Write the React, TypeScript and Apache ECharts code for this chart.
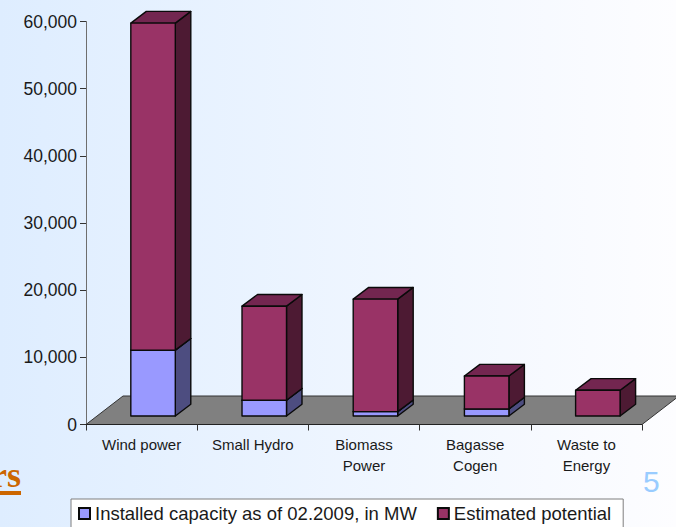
import React, { useEffect, useRef } from "react";
import * as echarts from "echarts";

const categories = ["Wind power", "Small Hydro", "Biomass\nPower", "Bagasse\nCogen", "Waste to\nEnergy"];
const installed = [9800, 2350, 650, 1050, 0];
const estimated = [48700, 14000, 16750, 4900, 3830];
const seriesNames = ["Installed capacity as of 02.2009, in MW", "Estimated potential"];
const yMax = 60000;
const yStep = 10000;

const FONT = "'Liberation Sans', Arial, sans-serif";
const BAR_DX = 15.5;
const BAR_DY = 11.7;
const BASE_DY = 8.5;
const OFFSET = 0.103;
const WIDTH = 0.4;
const FLOOR_DX = 37;
const FLOOR_DY = 28.5;

const faces = [
  { front: "#9999FF", side: "#4D4D80", top: "#7373BF" },
  { front: "#993366", side: "#4D1A33", top: "#732650" },
];
const stroke = "#0A0A0A";

function barRenderer(which: number) {
  return (_params: any, api: any) => {
    const cat = api.value(0);
    const start = api.value(1);
    const end = api.value(2);
    if (end <= start) return null;
    const band = api.size([1, 0])[0];
    const w = band * WIDTH;
    const centre = api.coord([cat, 0])[0] + band * OFFSET;
    const x0 = centre - w / 2;
    const x1 = x0 + w;
    const yb = api.coord([cat, start])[1] - BASE_DY;
    const yt = api.coord([cat, end])[1] - BASE_DY;
    const f = faces[which];
    const s = { stroke, lineWidth: 1.4, lineJoin: "round" };
    return {
      type: "group",
      children: [
        { type: "polygon", shape: { points: [[x1, yb], [x1 + BAR_DX, yb - BAR_DY], [x1 + BAR_DX, yt - BAR_DY], [x1, yt]] }, style: { ...s, fill: f.side } },
        { type: "polygon", shape: { points: [[x0, yt], [x1, yt], [x1 + BAR_DX, yt - BAR_DY], [x0 + BAR_DX, yt - BAR_DY]] }, style: { ...s, fill: f.top } },
        { type: "rect", shape: { x: x0, y: yt, width: w, height: yb - yt }, style: { ...s, fill: f.front } },
      ],
    };
  };
}

function floorRenderer(params: any, api: any) {
  const c = params.coordSys;
  const y = api.coord([0, 0])[1];
  const l = c.x;
  const r = c.x + c.width;
  return {
    type: "polygon",
    shape: { points: [[l, y], [l + FLOOR_DX, y - FLOOR_DY], [r + FLOOR_DX, y - FLOOR_DY], [r, y]] },
    style: { fill: "#808080", stroke: "#333333", lineWidth: 1 },
  };
}

export default function App() {
  const ref = useRef<HTMLDivElement>(null);
  useEffect(() => {
    document.body.style.margin = "0";
    const chart = echarts.init(ref.current!, undefined, { renderer: "svg" });
    const lower = categories.map((_, i) => [i, 0, installed[i]]);
    const upper = categories.map((_, i) => [i, installed[i], installed[i] + estimated[i]]);
    chart.setOption({
      animation: false,
      backgroundColor: {
        type: "linear", x: 0, y: 0, x2: 1, y2: 0,
        colorStops: [
          { offset: 0, color: "#DEEDFF" },
          { offset: 1, color: "#FDFDFF" },
        ],
      },
      grid: { left: 86, top: 21.5, width: 556, height: 403 },
      legend: {
        left: 71, top: 499,
        data: seriesNames,
        icon: "rect",
        itemWidth: 11, itemHeight: 11, itemGap: 20,
        padding: [5, 12, 6, 7],
        backgroundColor: "#FFFFFF",
        borderColor: "#7F7F7F", borderWidth: 1,
        selectedMode: false,
        textStyle: { fontFamily: FONT, fontSize: 18.5, color: "#1A1A1A" },
      },
      xAxis: {
        type: "category",
        data: categories,
        axisLine: { lineStyle: { color: "#222222", width: 1 } },
        axisTick: { show: true, length: 6, lineStyle: { color: "#333333" } },
        axisLabel: { interval: 0, fontFamily: FONT, fontSize: 15, color: "#1A1A1A", lineHeight: 21, margin: 9 },
        z: 3,
      },
      yAxis: {
        type: "value",
        min: 0, max: yMax, interval: yStep,
        splitLine: { show: false },
        axisLine: { show: true, lineStyle: { color: "#6E6E6E", width: 1 } },
        axisTick: { show: true, length: 6, lineStyle: { color: "#333333" } },
        axisLabel: {
          fontFamily: FONT, fontSize: 17.5, color: "#1A1A1A", margin: 9,
          formatter: (v: number) => v.toLocaleString("en-US"),
        },
      },
      graphic: [
        { type: "text", x: 21, y: 493, style: { text: "rs", align: "right", verticalAlign: "bottom", font: "bold 36px 'Liberation Serif', serif", fill: "#CC6600" } },
        { type: "rect", shape: { x: 0, y: 491, width: 21, height: 4 }, style: { fill: "#CC6600" } },
        { type: "text", x: 643, y: 466, style: { text: "5", font: "30px 'Liberation Sans', sans-serif", fill: "#99CCFF" } },
      ],
      series: [
        { type: "custom", silent: true, renderItem: floorRenderer, data: [[0, 0]], encode: { x: 0, y: 1 }, z: 1 },
        {
          type: "custom", name: seriesNames[0], renderItem: barRenderer(0), data: lower,
          encode: { x: 0, y: [1, 2] }, z: 4,
          itemStyle: { color: faces[0].front, borderColor: stroke, borderWidth: 1.4 },
        },
        {
          type: "custom", name: seriesNames[1], renderItem: barRenderer(1), data: upper,
          encode: { x: 0, y: [1, 2] }, z: 5,
          itemStyle: { color: faces[1].front, borderColor: stroke, borderWidth: 1.4 },
        },
      ],
    });
    return () => chart.dispose();
  }, []);
  return <div ref={ref} style={{ width: 676, height: 527, position: "absolute", left: 0, top: 0, overflow: "hidden" }} />;
}
